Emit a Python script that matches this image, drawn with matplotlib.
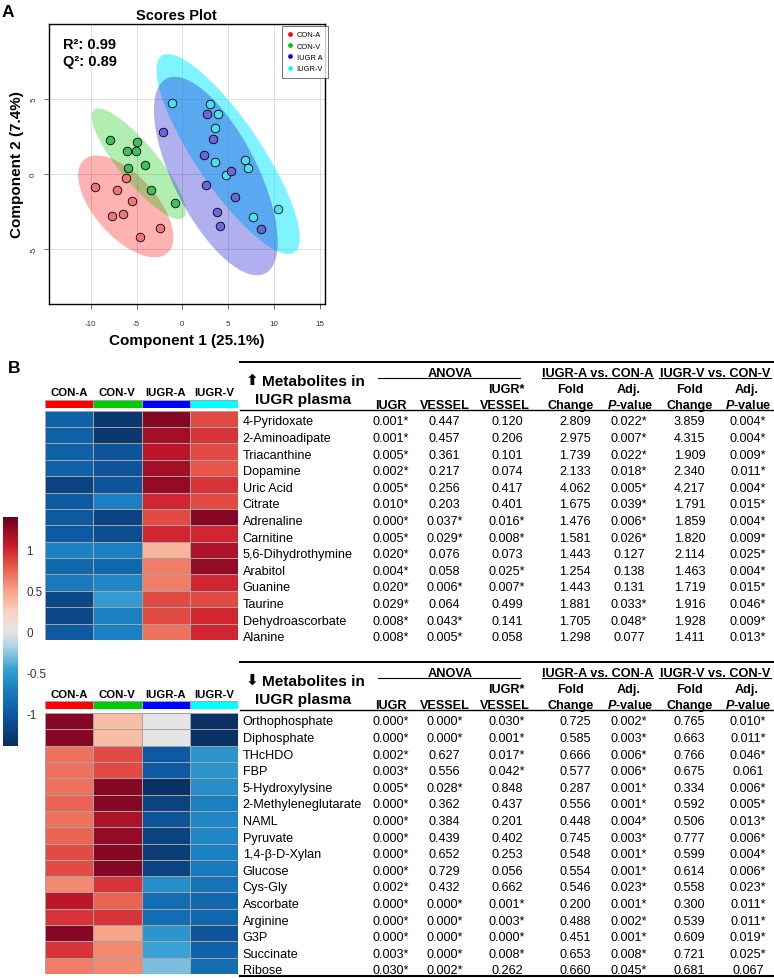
import numpy as np
import matplotlib
matplotlib.use('Agg')
import matplotlib.pyplot as plt
from matplotlib.patches import Ellipse, Rectangle
from matplotlib.colors import LinearSegmentedColormap, Normalize
from matplotlib.lines import Line2D
from matplotlib.cm import ScalarMappable

plt.rcParams['font.family'] = ['Liberation Sans', 'DejaVu Sans']
plt.rcParams['axes.unicode_minus'] = False
plt.rcParams['mathtext.fontset'] = 'custom'
plt.rcParams['mathtext.rm'] = 'Liberation Sans:bold'
plt.rcParams['mathtext.it'] = 'Liberation Sans:bold:italic'
plt.rcParams['mathtext.bf'] = 'Liberation Sans:bold'

# ---------------- Panel A data (PLS-DA scores) ----------------
group_labels = ['CON-A', 'CON-V', 'IUGR A', 'IUGR-V']
con_a_x = [-9.53, -7.09, -6.15, -5.53, -6.44, -7.67, -4.62, -2.40]
con_a_y = [-0.89, -1.04, -0.27, -1.82, -2.67, -2.82, -4.20, -3.60]
con_v_x = [-7.85, -6.00, -4.98, -5.05, -5.96, -4.11, -3.45, -0.76]
con_v_y = [2.29, 1.51, 2.11, 1.51, 0.40, 0.62, -1.09, -1.91]
iugr_a_x = [-2.07, 2.69, 3.35, 2.33, 5.31, 2.55, 5.75, 3.78, 4.15, 8.58]
iugr_a_y = [2.82, 3.98, 2.31, 1.29, 0.20, -0.73, -1.56, -2.56, -3.49, -3.67]
iugr_v_x = [-1.13, 3.05, 3.85, 3.56, 3.53, 4.80, 6.84, 7.20, 10.40, 7.75]
iugr_v_y = [4.73, 4.64, 3.98, 3.04, 0.80, -0.09, 0.93, 0.42, -2.31, -2.89]
r2_text = 'R²: 0.99'
q2_text = 'Q²: 0.89'
x_label = 'Component 1 (25.1%)'
y_label = 'Component 2 (7.4%)'
x_ticks = [-10, -5, 0, 5, 10, 15]
y_ticks = [-5, 0, 5]

# ---------------- Panel B data ----------------
heat_cols = ['CON-A', 'CON-V', 'IUGR-A', 'IUGR-V']
up_heat = [
    [-0.95, -1.30, 1.30, 0.85],
    [-0.95, -1.30, 1.20, 0.95],
    [-0.95, -1.05, 1.10, 0.85],
    [-0.95, -1.05, 1.20, 0.80],
    [-1.20, -1.05, 1.25, 0.95],
    [-1.00, -0.70, 1.00, 0.85],
    [-1.00, -1.20, 0.85, 1.30],
    [-1.00, -1.10, 1.00, 1.00],
    [-0.70, -0.70, 0.40, 1.15],
    [-0.90, -0.90, 0.65, 1.25],
    [-0.75, -0.65, 0.65, 1.00],
    [-1.15, -0.50, 0.85, 0.85],
    [-1.15, -0.70, 0.85, 1.00],
    [-1.00, -0.70, 0.70, 1.00],
]
down_heat = [
    [1.30, 0.35, 0.00, -1.35],
    [1.30, 0.35, 0.00, -1.35],
    [0.70, 0.85, -1.00, -0.55],
    [0.70, 0.85, -1.00, -0.55],
    [0.70, 1.30, -1.35, -0.60],
    [0.75, 1.30, -1.20, -0.70],
    [0.70, 1.15, -1.05, -0.65],
    [0.75, 1.25, -1.20, -0.65],
    [0.85, 1.30, -1.25, -0.70],
    [0.85, 1.30, -1.20, -0.75],
    [0.60, 0.95, -0.60, -0.80],
    [1.10, 0.75, -0.85, -0.90],
    [0.95, 0.95, -0.85, -0.90],
    [1.30, 0.50, -0.55, -1.05],
    [0.95, 0.60, -0.45, -0.95],
    [0.65, 0.60, -0.30, -0.85],
]
cbar_ticks = [-1, -0.5, 0, 0.5, 1]
cbar_labels = ['-1', '-0.5', '0', '0.5', '1']

up_names = ['4-Pyridoxate', '2-Aminoadipate', 'Triacanthine', 'Dopamine', 'Uric Acid',
            'Citrate', 'Adrenaline', 'Carnitine', '5,6-Dihydrothymine', 'Arabitol',
            'Guanine', 'Taurine', 'Dehydroascorbate', 'Alanine']
up_iugr = ['0.001*', '0.001*', '0.005*', '0.002*', '0.005*', '0.010*', '0.000*', '0.005*',
           '0.020*', '0.004*', '0.020*', '0.029*', '0.008*', '0.008*']
up_vessel = ['0.447', '0.457', '0.361', '0.217', '0.256', '0.203', '0.037*', '0.029*',
             '0.076', '0.058', '0.006*', '0.064', '0.043*', '0.005*']
up_inter = ['0.120', '0.206', '0.101', '0.074', '0.417', '0.401', '0.016*', '0.008*',
            '0.073', '0.025*', '0.007*', '0.499', '0.141', '0.058']
up_fc_a = ['2.809', '2.975', '1.739', '2.133', '4.062', '1.675', '1.476', '1.581',
           '1.443', '1.254', '1.443', '1.881', '1.705', '1.298']
up_p_a = ['0.022*', '0.007*', '0.022*', '0.018*', '0.005*', '0.039*', '0.006*', '0.026*',
          '0.127', '0.138', '0.131', '0.033*', '0.048*', '0.077']
up_fc_v = ['3.859', '4.315', '1.909', '2.340', '4.217', '1.791', '1.859', '1.820',
           '2.114', '1.463', '1.719', '1.916', '1.928', '1.411']
up_p_v = ['0.004*', '0.004*', '0.009*', '0.011*', '0.004*', '0.015*', '0.004*', '0.009*',
          '0.025*', '0.004*', '0.015*', '0.046*', '0.009*', '0.013*']

down_names = ['Orthophosphate', 'Diphosphate', 'THcHDO', 'FBP', '5-Hydroxylysine',
              '2-Methyleneglutarate', 'NAML', 'Pyruvate', '1,4-β-D-Xylan', 'Glucose',
              'Cys-Gly', 'Ascorbate', 'Arginine', 'G3P', 'Succinate', 'Ribose']
down_iugr = ['0.000*', '0.000*', '0.002*', '0.003*', '0.005*', '0.000*', '0.000*', '0.000*',
             '0.000*', '0.000*', '0.002*', '0.000*', '0.000*', '0.000*', '0.003*', '0.030*']
down_vessel = ['0.000*', '0.000*', '0.627', '0.556', '0.028*', '0.362', '0.384', '0.439',
               '0.652', '0.729', '0.432', '0.000*', '0.000*', '0.000*', '0.000*', '0.002*']
down_inter = ['0.030*', '0.001*', '0.017*', '0.042*', '0.848', '0.437', '0.201', '0.402',
              '0.253', '0.056', '0.662', '0.001*', '0.003*', '0.000*', '0.008*', '0.262']
down_fc_a = ['0.725', '0.585', '0.666', '0.577', '0.287', '0.556', '0.448', '0.745',
             '0.548', '0.554', '0.546', '0.200', '0.488', '0.451', '0.653', '0.660']
down_p_a = ['0.002*', '0.003*', '0.006*', '0.006*', '0.001*', '0.001*', '0.004*', '0.003*',
            '0.001*', '0.001*', '0.023*', '0.001*', '0.002*', '0.001*', '0.008*', '0.045*']
down_fc_v = ['0.765', '0.663', '0.766', '0.675', '0.334', '0.592', '0.506', '0.777',
             '0.599', '0.614', '0.558', '0.300', '0.539', '0.609', '0.721', '0.681']
down_p_v = ['0.010*', '0.011*', '0.046*', '0.061', '0.006*', '0.005*', '0.013*', '0.006*',
            '0.004*', '0.006*', '0.023*', '0.011*', '0.011*', '0.019*', '0.025*', '0.067']

# ---------------- figure ----------------
W, H = 774, 979
fig = plt.figure(figsize=(W / 100, H / 100), dpi=100)


def fbox(x0, y0, x1, y1):
    return [x0 / W, 1 - y1 / H, (x1 - x0) / W, (y1 - y0) / H]


# overlay axes in pixel coordinates for free text / rules
ov = fig.add_axes([0, 0, 1, 1], zorder=5)
ov.set_xlim(0, W)
ov.set_ylim(H, 0)
ov.axis('off')


def T(x, y, s, fs=9, weight='normal', ha='center', color='black', family=None):
    kw = {}
    if family is not None:
        kw['family'] = family
    ov.text(x, y + 0.497 * fs, s, fontsize=fs, fontweight=weight, ha=ha, va='baseline',
            color=color, **kw)


# ---------------- Panel A ----------------
ax = fig.add_axes(fbox(49, 25, 325, 305))
ax.set_xlim(-14.55, 15.55)
ax.set_ylim(-8.67, 10.0)
ax.set_xticks(x_ticks)
ax.set_yticks(y_ticks)
ax.set_xticklabels([str(v) for v in x_ticks])
ax.set_yticklabels([str(v) for v in y_ticks], rotation=90, va='center')
ax.tick_params(labelsize=5.8, length=3.5, width=0.5, colors='#333333')
ax.tick_params(axis='x', pad=8)
ax.tick_params(axis='y', pad=5)
ax.grid(True, color='#d9d9d9', lw=0.6)
ax.set_axisbelow(True)
for s in ax.spines.values():
    s.set_linewidth(1.0)

groups = [
    (con_a_x, con_a_y, '#FF0000', 0.30, '#F27474'),
    (con_v_x, con_v_y, '#00C400', 0.30, '#3CC25A'),
    (iugr_v_x, iugr_v_y, '#00E8FF', 0.50, '#45E2F2'),
    (iugr_a_x, iugr_a_y, '#1010D0', 0.33, '#6A66DE'),
]
k95 = np.sqrt(-2 * np.log(1 - 0.95))
for i, (gx, gy, col, al, pcol) in enumerate(groups):
    gx = np.asarray(gx)
    gy = np.asarray(gy)
    cov = np.cov(gx, gy)
    vals, vecs = np.linalg.eigh(cov)
    order = vals.argsort()[::-1]
    vals, vecs = vals[order], vecs[:, order]
    ang = np.degrees(np.arctan2(vecs[1, 0], vecs[0, 0]))
    ax.add_patch(Ellipse((gx.mean(), gy.mean()), 2 * k95 * np.sqrt(vals[0]),
                         2 * k95 * np.sqrt(vals[1]), angle=ang, facecolor=col,
                         alpha=al, edgecolor='none', zorder=2 + i))
for i, (gx, gy, col, al, pcol) in enumerate(groups):
    ax.scatter(gx, gy, s=38, facecolor=pcol, edgecolor='black', linewidth=0.6, zorder=10)

leg_cols = ['#FF0000', '#00C400', '#0000FF', '#00FFFF']
handles = [Line2D([], [], marker='o', ls='none', markersize=3.4, markerfacecolor=c,
                  markeredgecolor='none') for c in leg_cols]
lg = ax.legend(handles, group_labels, loc='upper right', bbox_to_anchor=(1.012, 0.994),
               fontsize=5.4, frameon=True, fancybox=False, handlelength=0.8,
               handletextpad=0.5, labelspacing=0.55, borderpad=0.7, borderaxespad=0)
lg.get_frame().set_edgecolor('#333333')
lg.get_frame().set_linewidth(0.6)
lg.set_zorder(20)

T(8, 11, 'A', fs=12.5, weight='bold')
T(176, 14.5, 'Scores Plot', fs=10.5, weight='bold')
T(63, 44, r2_text, fs=10.5, weight='bold', ha='left')
T(63, 61, q2_text, fs=10.5, weight='bold', ha='left')
T(187, 340, x_label, fs=11, weight='bold')
ov.text(17.5, 165, y_label, fontsize=11, fontweight='bold', rotation=90,
        ha='center', va='center')

# ---------------- Panel B heatmaps ----------------
cmap_pos = [-1.4, -1.0, -0.7, -0.45, -0.2, 0.0, 0.25, 0.5, 0.8, 1.05, 1.4]
cmap_hex = ['#0a2c5e', '#0d5ba3', '#1a80c1', '#3aa2d4', '#a8d2e7', '#e3e4e6',
            '#fbd1bf', '#f7a385', '#e8584a', '#cc1a2c', '#6b0021']
cmap = LinearSegmentedColormap.from_list(
    'hm', [((p + 1.4) / 2.8, c) for p, c in zip(cmap_pos, cmap_hex)])
norm = Normalize(-1.4, 1.4)
strip_cols = ['#FF0000', '#00CC00', '#0000FF', '#00FFFF']

T(14, 367, 'B', fs=12.5, weight='bold')


def heatmap(data, top, bottom, strip_top, strip_bot, head_y):
    data = np.asarray(data)
    hx = fig.add_axes(fbox(45, top, 238, bottom))
    hx.pcolormesh(data, cmap=cmap, norm=norm, edgecolors='#a3a3a3', linewidth=0.7)
    hx.set_xlim(0, 4)
    hx.set_ylim(data.shape[0], 0)
    hx.axis('off')
    sx = fig.add_axes(fbox(45, strip_top, 238, strip_bot))
    for j, c in enumerate(strip_cols):
        sx.add_patch(Rectangle((j, 0), 1, 1, facecolor=c, edgecolor='#a3a3a3', lw=0.7))
    sx.set_xlim(0, 4)
    sx.set_ylim(0, 1)
    sx.axis('off')
    cw = (238 - 45) / 4
    for j, name in enumerate(heat_cols):
        T(45 + cw * (j + 0.5), head_y, name, fs=8.2, weight='bold')


heatmap(up_heat, 411.7, 641, 400.7, 409, 392)
heatmap(down_heat, 714, 975, 702, 710, 694)

cax = fig.add_axes(fbox(3, 518, 18, 747))
cb = fig.colorbar(ScalarMappable(norm=norm, cmap=cmap), cax=cax)
cb.set_ticks(cbar_ticks)
cb.set_ticklabels(cbar_labels)
cb.outline.set_visible(False)
cax.tick_params(length=0, labelsize=8.4, colors='#333333', pad=6)

# ---------------- Panel B tables ----------------
col_x_vals = [391, 444.5, 507, 575, 629, 689.5, 748]
name_x = 242.7


def table(y0, arrow, names, cols):
    ov.plot([240, 774], [363 + y0, 363 + y0], color='black', lw=1.4)
    ov.plot([240, 774], [411.3 + y0, 411.3 + y0], color='black', lw=1.0)
    ov.plot([378, 520], [378.5 + y0, 378.5 + y0], color='black', lw=0.8)
    ov.plot([542, 653], [378.5 + y0, 378.5 + y0], color='black', lw=0.8)
    ov.plot([659, 771], [378.5 + y0, 378.5 + y0], color='black', lw=0.8)
    T(252, 380 + y0, arrow, fs=11, weight='bold', family=['DejaVu Sans'])
    T(313, 380 + y0, 'Metabolites in', fs=11.1, weight='bold')
    T(303, 398 + y0, 'IUGR plasma', fs=11.1, weight='bold')
    T(450, 372.5 + y0, 'ANOVA', fs=9.2, weight='bold')
    T(597.5, 372.5 + y0, 'IUGR-A vs. CON-A', fs=9.2, weight='bold')
    T(715, 372.5 + y0, 'IUGR-V vs. CON-V', fs=9.2, weight='bold')
    hy = 404.5 + y0
    T(391, hy, 'IUGR', fs=9.1, weight='bold')
    T(445, hy, 'VESSEL', fs=9.1, weight='bold')
    T(506, 388.5 + y0, 'IUGR*', fs=9.1, weight='bold')
    T(505, hy, 'VESSEL', fs=9.1, weight='bold')
    T(570.5, 388.5 + y0, 'Fold', fs=9.1, weight='bold')
    T(570.5, hy, 'Change', fs=9.1, weight='bold')
    T(628.5, 388.5 + y0, 'Adj.', fs=9.1, weight='bold')
    T(630, hy, r'$\mathit{P}$-value', fs=9.1, weight='bold')
    T(689.5, 388.5 + y0, 'Fold', fs=9.1, weight='bold')
    T(689.5, hy, 'Change', fs=9.1, weight='bold')
    T(747, 388.5 + y0, 'Adj.', fs=9.1, weight='bold')
    T(748.5, hy, r'$\mathit{P}$-value', fs=9.1, weight='bold')
    for i, nm in enumerate(names):
        yy = 420.8 + y0 + i * 16.6
        T(name_x, yy, nm, fs=9.1, ha='left')
        for cx, col in zip(col_x_vals, cols):
            T(cx, yy, col[i], fs=9.1)


table(0, '⬆', up_names, [up_iugr, up_vessel, up_inter, up_fc_a, up_p_a, up_fc_v, up_p_v])
table(300, '⬇', down_names, [down_iugr, down_vessel, down_inter, down_fc_a, down_p_a,
                              down_fc_v, down_p_v])
ov.plot([240, 774], [976.8, 976.8], color='black', lw=1.5)

fig.savefig('out.png', dpi=100)
